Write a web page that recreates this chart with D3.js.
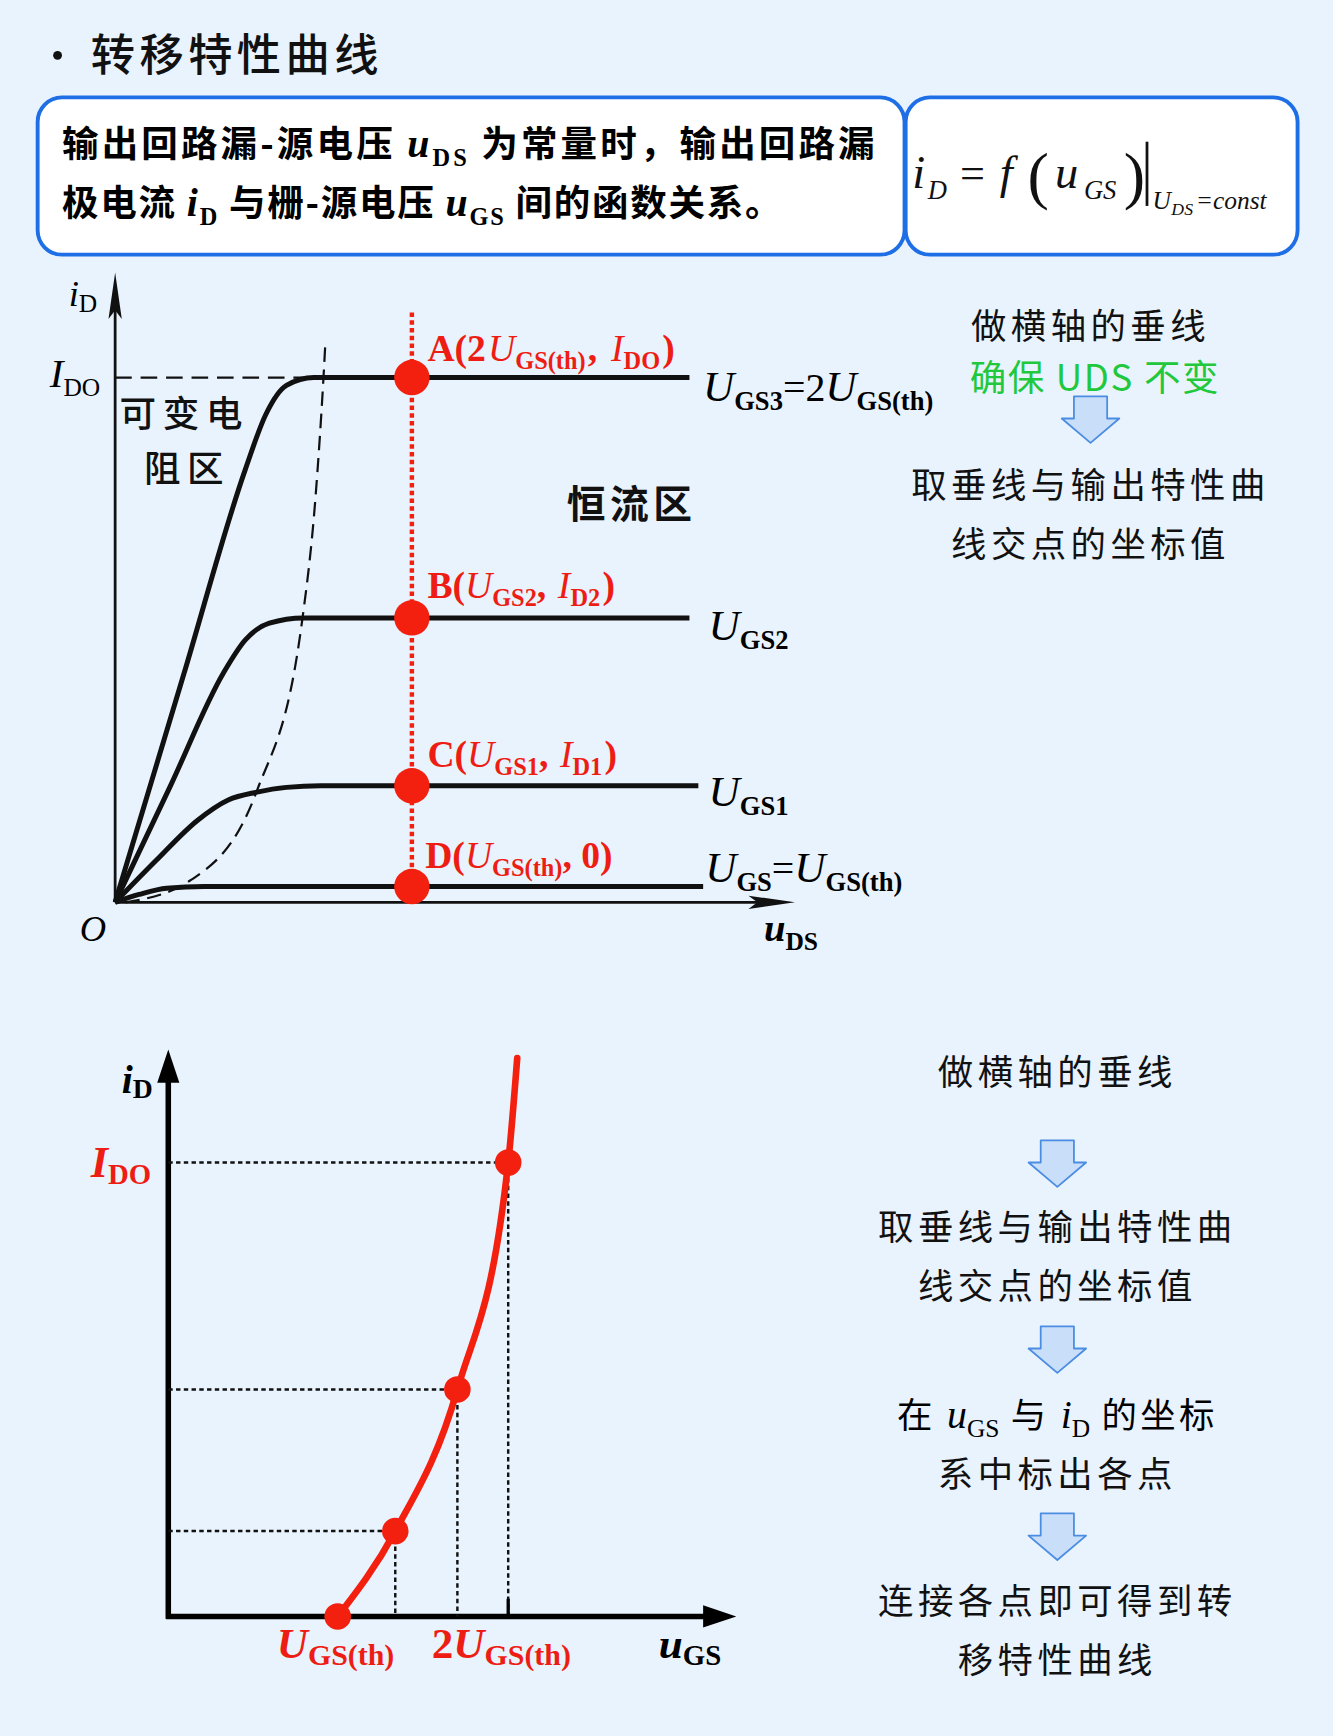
<!DOCTYPE html>
<html><head><meta charset="utf-8">
<script src="https://cdn.jsdelivr.net/npm/d3@7"></script>
<style>html,body{margin:0;padding:0;background:#e9f3fd;}svg{display:block;}</style>
</head><body>
<script>
// ---------- data (top: output characteristics, units: uDS / iD, I_DO = 10) ----------
const curveNames = ['UGS3','UGS2','UGS1','UGSth'];
const curveUGS3 = [[0,0],[1,4.34],[1.9,8.25],[2.2,9.3],[2.5,9.85],[2.9,10],[8.38,10]];
const curveUGS2 = [[0,0],[0.8,2.2],[1.58,4.37],[1.9,5.0],[2.25,5.32],[2.75,5.42],[8.38,5.42]];
const curveUGS1 = [[0,0],[0.6,0.8],[1.2,1.56],[1.65,1.95],[2.07,2.1],[2.5,2.19],[3,2.22],[8.51,2.22]];
const curveUGSth = [[0,0],[0.35,0.15],[0.75,0.27],[1.3,0.3],[8.58,0.3]];
const boundaryCurve = [[0.15,0],[1.1,0.42],[2.07,2.13],[2.73,5.38],[2.92,7.66],[3.04,10],[3.07,10.72]];
const IDO = 10;
const verticalU = 4.33;
const pointNames = ['A','B','C','D'];
const pointID = [10, 5.42, 2.22, 0.3];

// ---------- data (bottom: transfer characteristic, units: uGS / iD) ----------
const transferU = [3, 4.02, 5.12, 6.02];
const transferI = [0, 1.88, 5.0, 10];
const transferCurve = [[3,0],[4.02,1.88],[5.12,5.0],[6.02,10],[6.18,12.3]];

// ---------- steps text ----------
const stepsTop = ['做横轴的垂线','确保 UDS 不变','取垂线与输出特性曲','线交点的坐标值'];
const stepsBottom = ['做横轴的垂线','取垂线与输出特性曲','线交点的坐标值','系中标出各点','连接各点即可得到转','移特性曲线'];

const CJK = "'Noto Sans CJK SC','Noto Sans',sans-serif";
const SERIF = "'Liberation Serif','DejaVu Serif',serif";
const RED = '#f3200f', RED_T = '#ee1d14';

const svg = d3.select('body').append('svg')
  .attr('width',1333).attr('height',1736).attr('viewBox','0 0 1204 1568');
svg.append('rect').attr('width',1204).attr('height',1568).attr('fill','#e9f3fd');

function rich(g, x, y, segs, o={}) {
  const t = g.append('text').attr('x',x).attr('y',y)
    .attr('font-family', o.family||SERIF).attr('font-size', o.size||32)
    .attr('fill', o.fill||'#000').attr('font-weight', o.weight||'normal')
    .attr('text-anchor', o.anchor||'start');
  if (o.ls) t.attr('letter-spacing', o.ls);
  let shift=0;
  segs.forEach(s=>{
    const ts=t.append('tspan').text(s.t);
    const target = s.dy||0;
    if (target!==shift) { ts.attr('dy', target-shift); shift=target; }
    if (s.size) ts.attr('font-size', s.size);
    if (s.i) ts.attr('font-style','italic');
    if (s.b!==undefined) ts.attr('font-weight', s.b?'bold':'normal');
    if (s.f) ts.attr('font-family', s.f);
    if (s.fill) ts.attr('fill', s.fill);
    if (s.dx) ts.attr('dx', s.dx);
    if (s.ls!==undefined) ts.attr('letter-spacing', s.ls);
  });
  if (o.len) t.attr('textLength', o.len).attr('lengthAdjust','spacing');
  return t;
}

// ---------- title ----------
svg.append('circle').attr('cx',52).attr('cy',50).attr('r',4).attr('fill','#111');
svg.append('text').attr('x',82).attr('y',64).attr('font-family',CJK).attr('font-size',40)
  .attr('font-weight',500).attr('letter-spacing',4).attr('fill','#111').text('转移特性曲线');

// ---------- boxes ----------
svg.append('rect').attr('x',34).attr('y',88).attr('width',783).attr('height',142).attr('rx',22)
  .attr('fill','#fff').attr('stroke','#1e6ee6').attr('stroke-width',3.5);
svg.append('rect').attr('x',818).attr('y',88).attr('width',354).attr('height',142).attr('rx',22)
  .attr('fill','#fff').attr('stroke','#1e6ee6').attr('stroke-width',3.5);

rich(svg,56,142,[
  {t:'输出回路漏-源电压 '},
  {t:'u',i:true,f:SERIF,size:36},
  {t:'DS',f:SERIF,size:22,dy:8},
  {t:' 为常量时，输出回路漏',dy:0}
],{family:CJK,size:33,weight:'bold',len:734});
rich(svg,56,195,[
  {t:'极电流 '},
  {t:'i',i:true,f:SERIF,size:36},
  {t:'D',f:SERIF,size:22,dy:8},
  {t:' 与栅-源电压 ',dy:0},
  {t:'u',i:true,f:SERIF,size:36},
  {t:'GS',f:SERIF,size:22,dy:8},
  {t:' 间的函数关系。',dy:0}
],{family:CJK,size:33,weight:'bold',len:650});

// formula
const fg = svg.append('g').attr('font-family',SERIF).attr('fill','#111');
fg.append('text').attr('x',824).attr('y',170).attr('font-size',42).attr('font-style','italic').text('i');
fg.append('text').attr('x',838).attr('y',180).attr('font-size',24).attr('font-style','italic').text('D');
fg.append('text').attr('x',867).attr('y',170).attr('font-size',40).text('=');
fg.append('text').attr('x',903).attr('y',170).attr('font-size',42).attr('font-style','italic').text('f');
fg.append('text').attr('x',928).attr('y',178).attr('font-size',58).text('(');
fg.append('text').attr('x',953).attr('y',170).attr('font-size',42).attr('font-style','italic').text('u');
fg.append('text').attr('x',979).attr('y',180).attr('font-size',24).attr('font-style','italic').text('GS');
fg.append('text').attr('x',1015).attr('y',178).attr('font-size',58).text(')');
fg.append('line').attr('x1',1036).attr('x2',1036).attr('y1',128).attr('y2',186).attr('stroke','#111').attr('stroke-width',2.5);
fg.append('text').attr('x',1041).attr('y',189).attr('font-size',23).attr('font-style','italic').text('U');
fg.append('text').attr('x',1058).attr('y',194).attr('font-size',16).attr('font-style','italic').text('DS');
fg.append('text').attr('x',1080).attr('y',189).attr('font-size',23).attr('font-style','italic').text('=const');

// ---------- top chart ----------
const xT = d3.scaleLinear([0,10],[104,723]);
const yT = d3.scaleLinear([0,10],[815,341]);
const gTop = svg.append('g');
const lineT = d3.line().x(d=>xT(d[0])).y(d=>yT(d[1])).curve(d3.curveMonotoneX);

// axes
gTop.append('line').attr('x1',xT(0)).attr('x2',xT(0)).attr('y1',yT(0)).attr('y2',yT(11.6))
  .attr('stroke','#111').attr('stroke-width',2.5);
gTop.append('line').attr('x1',xT(0)).attr('x2',xT(9.6)).attr('y1',yT(0)).attr('y2',yT(0))
  .attr('stroke','#111').attr('stroke-width',2.5);
{
  const ax=xT(0), ay=yT(12.0);
  gTop.append('path').attr('d',`M${ax},${ay} L${ax+6},${ay+42} L${ax},${ay+34} L${ax-6},${ay+42} Z`).attr('fill','#111');
  const bx=xT(9.92), by=yT(0);
  gTop.append('path').attr('d',`M${bx},${by} L${bx-42},${by-6} L${bx-34},${by} L${bx-42},${by+6} Z`).attr('fill','#111');
}
// I_DO dashed
gTop.append('line').attr('x1',xT(0)).attr('x2',xT(3.0)).attr('y1',yT(IDO)).attr('y2',yT(IDO))
  .attr('stroke','#111').attr('stroke-width',2).attr('stroke-dasharray','15,8');
// boundary dashed
gTop.append('path').attr('d',lineT(boundaryCurve)).attr('fill','none')
  .attr('stroke','#111').attr('stroke-width',2).attr('stroke-dasharray','13,7');
// curves
[curveUGS3,curveUGS2,curveUGS1,curveUGSth].forEach(c=>{
  gTop.append('path').attr('d',lineT(c)).attr('fill','none').attr('stroke','#111')
    .attr('stroke-width',4.5).attr('stroke-linejoin','round');
});
// red vertical dotted
gTop.append('line').attr('x1',xT(verticalU)).attr('x2',xT(verticalU)).attr('y1',yT(11.24)).attr('y2',yT(0))
  .attr('stroke',RED).attr('stroke-width',4).attr('stroke-dasharray','4,3');
// dots
gTop.selectAll('circle.pt').data(pointID).join('circle').attr('class','pt')
  .attr('cx',xT(verticalU)).attr('cy',d=>yT(d)).attr('r',16).attr('fill',RED);

// axis labels
rich(gTop,62,276,[{t:'i',i:true,size:33},{t:'D',size:23,dy:6}]);
rich(gTop,45,350,[{t:'I',i:true,size:37},{t:'DO',size:23,dy:8}]);
rich(gTop,72,850,[{t:'O',i:true,size:33}]);
rich(gTop,690,850,[{t:'u',i:true,b:true,size:35},{t:'DS',b:true,size:23,dy:8}]);

// region labels
gTop.append('text').attr('x',108).attr('y',386).attr('font-family',CJK).attr('font-size',33)
  .attr('font-weight',500).attr('letter-spacing',6).attr('fill','#111').text('可变电');
gTop.append('text').attr('x',130).attr('y',435).attr('font-family',CJK).attr('font-size',33)
  .attr('font-weight',500).attr('letter-spacing',6).attr('fill','#111').text('阻区');
gTop.append('text').attr('x',512).attr('y',468).attr('font-family',CJK).attr('font-size',35)
  .attr('letter-spacing',4).attr('font-weight','bold').attr('fill','#111').text('恒流区');

// point labels (red)
const lx = xT(verticalU)+14;
const RS = 34, RSS = 22;
rich(gTop,lx,yT(pointID[0])-15,[
  {t:'A(2',b:true},{t:'U',i:true,dx:2},{t:'GS(th)',b:true,size:RSS,dy:7},{t:', ',b:true,dy:0,dx:2},
  {t:'I',i:true,dx:4},{t:'DO',b:true,size:RSS,dy:7},{t:')',b:true,dy:0,dx:2}],{fill:RED_T,size:RS});
rich(gTop,lx,yT(pointID[1])-18,[
  {t:'B(',b:true},{t:'U',i:true},{t:'GS2',b:true,size:RSS,dy:7},{t:', ',b:true,dy:0},
  {t:'I',i:true,dx:2},{t:'D2',b:true,size:RSS,dy:7},{t:')',b:true,dy:0,dx:2}],{fill:RED_T,size:RS});
rich(gTop,lx,yT(pointID[2])-17,[
  {t:'C(',b:true},{t:'U',i:true},{t:'GS1',b:true,size:RSS,dy:7},{t:', ',b:true,dy:0},
  {t:'I',i:true,dx:2},{t:'D1',b:true,size:RSS,dy:7},{t:')',b:true,dy:0,dx:2}],{fill:RED_T,size:RS});
rich(gTop,lx-2,yT(pointID[3])-17,[
  {t:'D(',b:true},{t:'U',i:true},{t:'GS(th)',b:true,size:RSS,dy:7},{t:', 0)',b:true,dy:0}],{fill:RED_T,size:RS});

// curve labels
rich(gTop,635,362,[{t:'U',i:true,size:39},{t:'GS3',b:true,size:24,dy:8},{t:'=2',size:36,dy:0},
  {t:'U',i:true,size:39},{t:'GS(th)',b:true,size:24,dy:8}]);
rich(gTop,640,578,[{t:'U',i:true,size:39},{t:'GS2',b:true,size:24,dy:8}]);
rich(gTop,640,728,[{t:'U',i:true,size:39},{t:'GS1',b:true,size:24,dy:8}]);
rich(gTop,637,797,[{t:'U',i:true,size:39},{t:'GS',b:true,size:24,dy:8},{t:'=',size:36,dy:0},
  {t:'U',i:true,size:39},{t:'GS(th)',b:true,size:24,dy:8}]);

// ---------- flow arrows ----------
function flowArrow(cx,y0){
  svg.append('path').attr('d',`M${cx-15},${y0} L${cx+15},${y0} L${cx+15},${y0+20} L${cx+26},${y0+20} L${cx},${y0+42} L${cx-26},${y0+20} L${cx-15},${y0+20} Z`)
    .attr('fill','#c9def8').attr('stroke','#4b8de2').attr('stroke-width',1.6).attr('stroke-linejoin','round');
}
function step(cx,y,txt,fill,ls,size){
  svg.append('text').attr('x',cx).attr('y',y).attr('text-anchor','middle').attr('font-family',CJK)
    .attr('font-size',size||32).attr('letter-spacing',ls===undefined?4:ls).attr('fill',fill||'#111').text(txt);
}
// top right
step(985,306,stepsTop[0]);
step(989,353,stepsTop[1],'#22c83c',1.5,33);
flowArrow(985,358);
step(985,450,stepsTop[2]);
step(985,503,stepsTop[3]);

// bottom right
step(955,980,stepsBottom[0]);
flowArrow(955,1030);
step(955,1120,stepsBottom[1]);
step(955,1173,stepsBottom[2]);
flowArrow(955,1198);
rich(svg,955,1290,[{t:'在 '},{t:'u',i:true,f:SERIF,size:36,ls:0},{t:'GS',f:SERIF,size:23,dy:8,ls:0},
  {t:' 与 ',dy:0},{t:'i',i:true,f:SERIF,size:36,ls:0},{t:'D',f:SERIF,size:23,dy:8,ls:0},{t:' 的坐标',dy:0}],
  {family:CJK,size:32,anchor:'middle',ls:3});
step(955,1343,stepsBottom[3]);
flowArrow(955,1367);
step(955,1458,stepsBottom[4]);
step(955,1511,stepsBottom[5]);

// ---------- bottom chart ----------
const xB = d3.scaleLinear([0,10],[152,662]);
const yB = d3.scaleLinear([0,10],[1460,1050]);
const bot = svg.append('g');
bot.append('line').attr('x1',xB(0)).attr('x2',xB(0)).attr('y1',yB(0)+2).attr('y2',yB(11.9))
  .attr('stroke','#000').attr('stroke-width',5);
bot.append('line').attr('x1',xB(0)-2).attr('x2',xB(9.5)).attr('y1',yB(0)).attr('y2',yB(0))
  .attr('stroke','#000').attr('stroke-width',5);
{
  const ax=xB(0), ay=yB(12.49);
  bot.append('path').attr('d',`M${ax},${ay} L${ax+10},${ay+30} L${ax-10},${ay+30} Z`).attr('fill','#000');
  const bx=xB(10.06), by=yB(0);
  bot.append('path').attr('d',`M${bx},${by} L${bx-30},${by-10} L${bx-30},${by+10} Z`).attr('fill','#000');
}
// dotted guides
transferU.forEach((u,k)=>{
  if (k===0) return;
  bot.append('line').attr('x1',xB(0)).attr('x2',xB(u)).attr('y1',yB(transferI[k])).attr('y2',yB(transferI[k]))
    .attr('stroke','#111').attr('stroke-width',2.2).attr('stroke-dasharray','4,3');
  bot.append('line').attr('x1',xB(u)).attr('x2',xB(u)).attr('y1',yB(transferI[k])).attr('y2',yB(0))
    .attr('stroke','#111').attr('stroke-width',2.2).attr('stroke-dasharray','4,3');
});
bot.append('line').attr('x1',xB(transferU[3])).attr('x2',xB(transferU[3])).attr('y1',yB(0)).attr('y2',yB(0)-16)
  .attr('stroke','#000').attr('stroke-width',3);
// curve
const lineB = d3.line().x(d=>xB(d[0])).y(d=>yB(d[1])).curve(d3.curveMonotoneX);
bot.append('path').attr('d',lineB(transferCurve)).attr('fill','none').attr('stroke',RED)
  .attr('stroke-width',6).attr('stroke-linecap','round');
bot.selectAll('circle.tp').data(transferU).join('circle').attr('class','tp')
  .attr('cx',d=>xB(d)).attr('cy',(d,k)=>yB(transferI[k])).attr('r',12).attr('fill',RED);

// labels
rich(bot,110,987,[{t:'i',i:true,b:true,size:36},{t:'D',b:true,size:25,dy:5}]);
rich(bot,82,1063,[{t:'I',i:true,b:true,size:40},{t:'DO',b:true,size:26,dy:6}],{fill:RED_T});
rich(bot,250,1498,[{t:'U',i:true,b:true,size:39},{t:'GS(th)',b:true,size:27,dy:6}],{fill:RED_T});
rich(bot,390,1498,[{t:'2',b:true,size:39},{t:'U',i:true,b:true,size:39},{t:'GS(th)',b:true,size:27,dy:6}],{fill:RED_T});
rich(bot,595,1498,[{t:'u',i:true,b:true,size:39},{t:'GS',b:true,size:26,dy:6}]);
</script>
</body></html>
